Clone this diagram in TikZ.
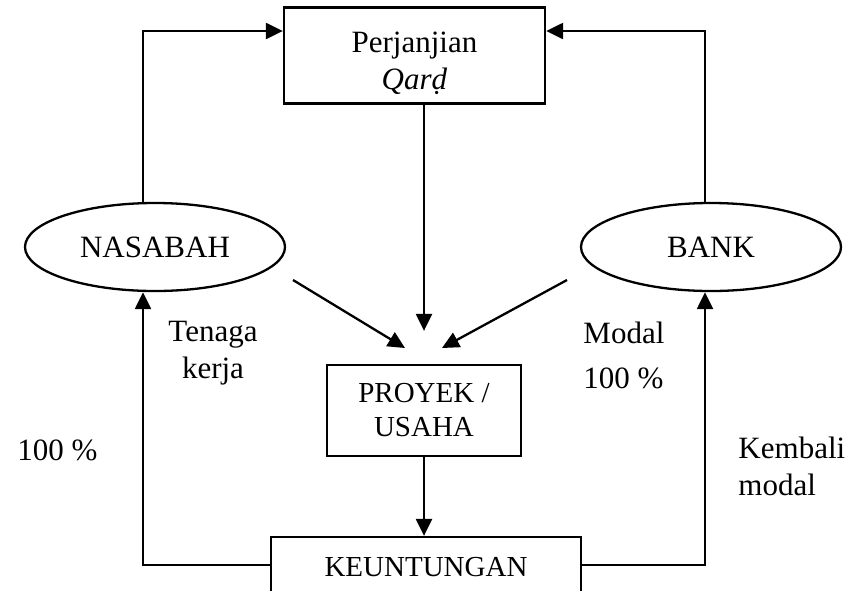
\documentclass[tikz,border=0pt]{standalone}
\usepackage{fontspec}
\setmainfont{Liberation Serif}
\usetikzlibrary{arrows.meta,shapes.geometric}
\begin{document}
\begin{tikzpicture}[x=1pt,y=-1pt,line width=2.3pt,
  font=\fontsize{31}{37}\selectfont,
  box/.style={draw,rectangle,inner sep=0pt,align=center},
  oval/.style={draw,ellipse,inner sep=0pt,minimum width=260pt,minimum height=88pt},
  small/.style={font=\fontsize{29}{34}\selectfont},
  arr/.style={-{Triangle[length=17pt,width=16pt]}}]
  \useasboundingbox (0,0) rectangle (851,590);
  % boxes and ovals
  \node[box,minimum width=261pt,minimum height=96pt] (perj) at (414.5,55.5) {\rule{0pt}{37pt}Perjanjian\\\textit{Qarḍ}};
  \node[oval] (nasabah) at (155,247) {NASABAH};
  \node[oval] (bank) at (711,247) {BANK};
  \node[box,small,minimum width=194pt,minimum height=91pt] (proyek) at (424,410.5) {PROYEK /\\USAHA};
  \node[box,small,minimum width=310pt,minimum height=60pt] (untung) at (426,567) {KEUNTUNGAN};
  % labels
  \node[align=center] (tenaga) at (213,353) {Tenaga\\kerja};
  \node[align=left,anchor=west] (modal) at (579,355) {Modal\\[8pt]100 \%};
  \node[anchor=west] (persen) at (13,450) {100 \%};
  \node[align=left,anchor=west] (kembali) at (734,466) {Kembali\\modal};
  % free ends of the slanted arrows
  \coordinate (nasout) at (293,280);
  \coordinate (bankout) at (567,280);
  \coordinate (nasin) at (405,348);
  \coordinate (bankin) at (442,348);
  % connectors
  \draw[arr] ([xshift=-12pt]nasabah.north) |- ([yshift=24.5pt]perj.west);
  \draw[arr] ([xshift=-6pt]bank.north) |- ([yshift=24.5pt]perj.east);
  \draw[arr] (perj.south -| proyek.north) -- ([yshift=33pt]proyek.north);
  \draw[arr] (nasout) -- (nasin);
  \draw[arr] (bankout) -- (bankin);
  \draw[arr] (proyek.south) -- (proyek.south |- untung.north);
  \draw[arr] ([yshift=2pt]untung.west) -| ([xshift=-12pt]nasabah.south);
  \draw[arr] ([yshift=2pt]untung.east) -| ([xshift=-6pt]bank.south);
\end{tikzpicture}
\end{document}
